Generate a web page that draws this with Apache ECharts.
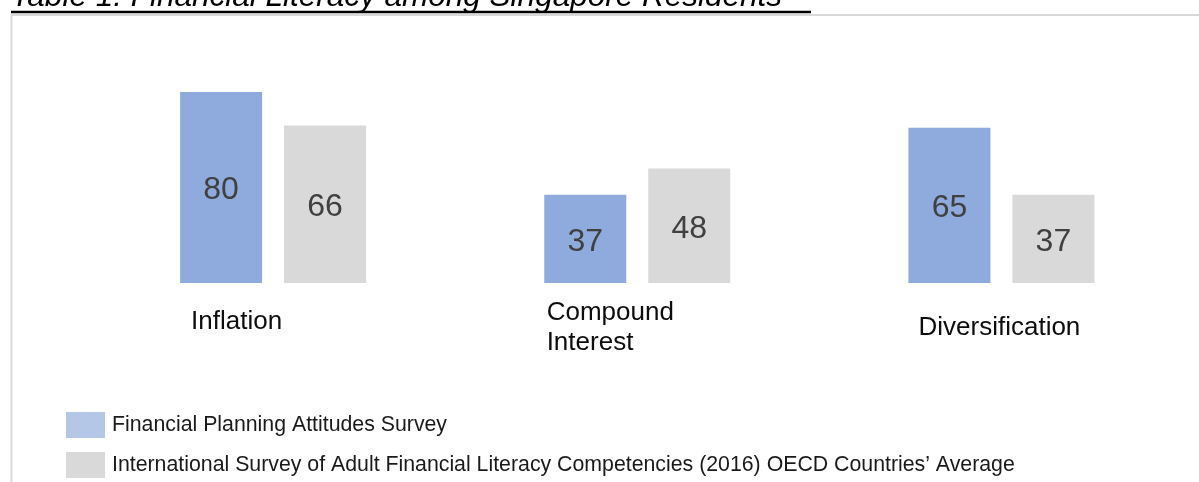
<!DOCTYPE html>
<html>
<head>
<meta charset="utf-8">
<style>
  html, body { margin: 0; padding: 0; background: #ffffff; }
  #chart { width: 1199px; height: 482px; }
</style>
<script src="https://cdn.jsdelivr.net/npm/echarts@6/dist/echarts.min.js"></script>
</head>
<body>
<div id="chart"></div>
<script>
const titleText = 'Table 1: Financial Literacy among Singapore Residents';
const categories = ['Inflation', 'Compound\nInterest', 'Diversification'];
const seriesNames = [
  'Financial Planning Attitudes Survey',
  'International Survey of Adult Financial Literacy Competencies (2016) OECD Countries\u2019 Average'
];
const fpasValues = [80, 37, 65];
const oecdValues = [66, 48, 37];

const FONT = '"Liberation Sans", Arial, sans-serif';

function catLabel(value) {
  if (value === categories[0]) return '{inf|' + value + '}';
  if (value === categories[1]) {
    const parts = value.split('\n');
    return '{c1|' + parts[0] + '}\n{c2|' + parts[1] + '}';
  }
  return '{div|' + value + '}';
}

const chart = echarts.init(document.getElementById('chart'), null, { renderer: 'canvas' });
chart.setOption({
  animation: false,
  backgroundColor: '#ffffff',
  title: {
    text: titleText,
    left: 11,
    top: -18,
    padding: 0,
    textStyle: {
      fontFamily: FONT,
      fontSize: 31.5,
      lineHeight: 31,
      fontStyle: 'italic',
      fontWeight: 'normal',
      color: '#000000'
    }
  },
  graphic: [
    { type: 'line', shape: { x1: 11, y1: 15, x2: 1199, y2: 15 }, style: { stroke: '#d9d9d9', lineWidth: 2 }, z: 1 },
    { type: 'line', shape: { x1: 11.5, y1: 14, x2: 11.5, y2: 482 }, style: { stroke: '#d9d9d9', lineWidth: 2 }, z: 1 },
    { type: 'line', shape: { x1: 11, y1: 12, x2: 811, y2: 12 }, style: { stroke: '#000000', lineWidth: 2.5 }, z: 2 }
  ],
  legend: {
    orient: 'vertical',
    left: 66,
    top: 412,
    padding: 0,
    itemWidth: 39,
    itemHeight: 26,
    itemGap: 14,
    icon: 'rect',
    selectedMode: false,
    data: [
      { name: seriesNames[0], itemStyle: { color: '#b4c7e7' } },
      { name: seriesNames[1], itemStyle: { color: '#d9d9d9' } }
    ],
    textStyle: { fontFamily: FONT, fontSize: 21.3, color: '#1a1a1a', padding: [2, 0, 0, 2] }
  },
  grid: { left: 91, right: 15.5, top: 92, bottom: 199, containLabel: false },
  xAxis: {
    type: 'category',
    data: categories,
    axisLine: { show: false },
    axisTick: { show: false },
    splitLine: { show: false },
    axisLabel: {
      interval: 0,
      margin: 15,
      formatter: catLabel,
      color: '#0d0d0d',
      fontFamily: FONT,
      fontSize: 26,
      rich: {
        inf: { fontFamily: FONT, fontSize: 26, lineHeight: 26, color: '#0d0d0d', padding: [21, 73, 0, 0] },
        c1: { fontFamily: FONT, fontSize: 26, lineHeight: 30, color: '#0d0d0d', padding: [0, 54, 0, 0] },
        c2: { fontFamily: FONT, fontSize: 26, lineHeight: 30, color: '#0d0d0d', padding: [0, 94.5, 0, 0] },
        div: { fontFamily: FONT, fontSize: 26, lineHeight: 26, color: '#0d0d0d', padding: [34, 4, 0, 0] }
      }
    }
  },
  yAxis: {
    type: 'value',
    min: 0,
    max: 80,
    show: false,
    splitLine: { show: false }
  },
  series: [
    {
      name: seriesNames[0],
      type: 'bar',
      data: fpasValues,
      barWidth: 82,
      barGap: '26.8%',
      itemStyle: { color: '#8faadc' },
      label: { show: true, position: 'inside', offset: [0, 3], fontFamily: FONT, fontSize: 32, color: '#404040' }
    },
    {
      name: seriesNames[1],
      type: 'bar',
      data: oecdValues,
      barWidth: 82,
      barGap: '26.8%',
      itemStyle: { color: '#d9d9d9' },
      label: { show: true, position: 'inside', offset: [0, 3], fontFamily: FONT, fontSize: 32, color: '#404040' }
    }
  ]
});
</script>
</body>
</html>
